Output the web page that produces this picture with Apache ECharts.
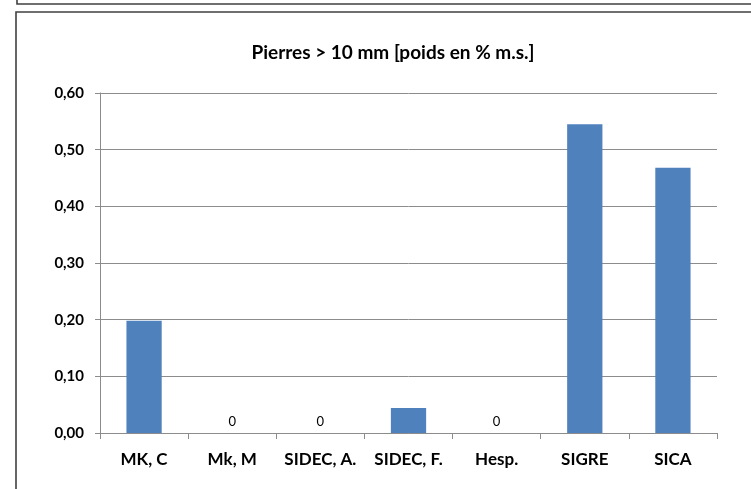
<!DOCTYPE html>
<html>
<head>
<meta charset="utf-8">
<script src="https://cdn.jsdelivr.net/npm/echarts@6/dist/echarts.min.js"></script>
<style>
html,body{margin:0;padding:0;background:#fff;}
#chart{width:751px;height:489px;}
</style>
</head>
<body>
<div id="chart"></div>
<script>
const chartTitle = 'Pierres > 10 mm [poids en % m.s.]';
const categories = ['MK, C', 'Mk, M', 'SIDEC, A.', 'SIDEC, F.', 'Hesp.', 'SIGRE', 'SICA'];
const values = [0.198, 0, 0, 0.044, 0, 0.545, 0.468];
const yMin = 0, yMax = 0.6, yStep = 0.1;

const FONT = 'Lato';
const chart = echarts.init(document.getElementById('chart'), null, {renderer: 'canvas'});
chart.setOption({
  animation: false,
  backgroundColor: '#fff',
  title: {
    text: chartTitle,
    left: 388, top: 38,
    textAlign: 'center',
    textStyle: {fontFamily: FONT, fontWeight: 'bold', fontSize: 19, color: '#000'}
  },
  graphic: [
    {type: 'rect', shape: {x: 17, y: -20, width: 800, height: 24}, style: {fill: 'none', stroke: '#404040', lineWidth: 1.6}},
    {type: 'rect', shape: {x: 16, y: 12, width: 800, height: 600}, style: {fill: 'none', stroke: '#404040', lineWidth: 1.6}}
  ],
  grid: {left: 100, right: 34, top: 93, bottom: 56, containLabel: false},
  xAxis: {
    type: 'category',
    data: categories,
    axisLine: {lineStyle: {color: '#8c8c8c', width: 1}},
    axisTick: {show: true, length: 6, lineStyle: {color: '#8c8c8c'}},
    axisLabel: {fontFamily: FONT, fontWeight: 'bold', fontSize: 17, color: '#000', margin: 18, interval: 0}
  },
  yAxis: {
    type: 'value',
    min: yMin, max: yMax, interval: yStep,
    axisLine: {show: true, lineStyle: {color: '#8c8c8c', width: 1}},
    axisTick: {show: true, length: 5, lineStyle: {color: '#8c8c8c'}},
    splitLine: {lineStyle: {color: '#8c8c8c', width: 1}},
    axisLabel: {
      fontFamily: FONT, fontWeight: 'bold', fontSize: 15, color: '#000', margin: 16,
      formatter: v => v.toFixed(2).replace('.', ',')
    }
  },
  series: [{
    type: 'bar',
    data: values,
    barWidth: '40%',
    itemStyle: {color: '#4f81bd'},
    label: {
      show: true, position: 'top', distance: 5,
      fontFamily: FONT, fontSize: 13, color: '#000',
      formatter: p => (p.value === 0 ? '0' : '')
    }
  }]
});
</script>
</body>
</html>
